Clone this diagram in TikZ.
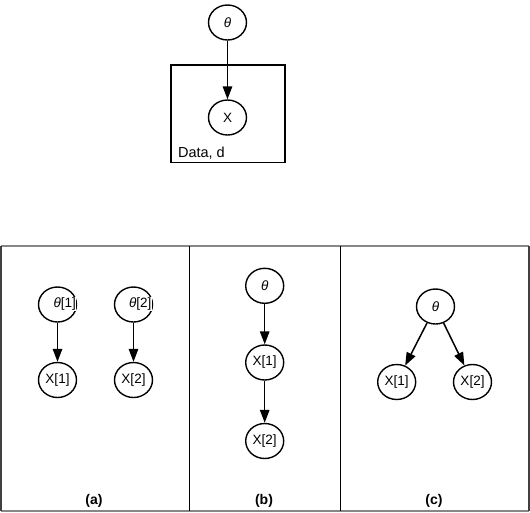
\documentclass[tikz,border=0pt]{standalone}
\usepackage{fontspec}
\setmainfont{Liberation Sans}
\usetikzlibrary{shapes.geometric,arrows.meta}
\begin{document}
\begin{tikzpicture}[x=1pt,y=-1pt,
  var/.style={ellipse,draw,line width=1.4pt,minimum width=38pt,minimum height=35pt,inner sep=0pt,font=\fontsize{13.5}{15}\selectfont},
  edge/.style={line width=1.5pt,-{Triangle[length=13pt,width=9.5pt]}},
  ttext/.style={fill=white,inner sep=0.6pt,font=\fontsize{13.5}{15}\selectfont},
  panellabel/.style={font=\bfseries\fontsize{14}{16}\selectfont}]
\useasboundingbox (0,0) rectangle (530,512);
% plate model at the top
\draw[line width=1.5pt] (171,65) rectangle (285,162.5);
\node[anchor=base west,font=\fontsize{14.5}{16}\selectfont] (dlab) at (174.5,157.5) {Data, d};
\node[var] (th) at (227.5,22.5) {\textit{θ}};
\node[var] (x) at (227.5,117.5) {X};
\draw[edge] (th) -- (x);
% panel frame
\draw[line width=2pt,gray!95] (1,246) -- (529,246);
\draw[line width=2pt,gray!95] (1,511) -- (529,511);
\draw[line width=1.8pt,black!75] (1,246) -- (1,511);
\draw[line width=1.8pt,black!75] (529,246) -- (529,511);
\draw[line width=1.5pt] (189.5,246) -- (189.5,511);
\draw[line width=1.5pt] (340.7,246) -- (340.7,511);
% panel (a): independent parameters
\node[var] (ta1) at (57.5,304.5) {};
\node[ttext] (ta1t) at (64.7,304) {\textit{θ}[1]};
\node[var] (xa1) at (57.5,380) {X[1]};
\node[var] (ta2) at (133.5,304.5) {};
\node[ttext] (ta2t) at (140.2,304) {\textit{θ}[2]};
\node[var] (xa2) at (133.5,380) {X[2]};
\draw[edge] (ta1) -- (xa1);
\draw[edge] (ta2) -- (xa2);
\node[panellabel] (la) at (94,501) {(a)};
% panel (b): chain
\node[var] (tb) at (264.7,285.8) {\textit{θ}};
\node[var] (xb1) at (264.7,362.5) {X[1]};
\node[var] (xb2) at (264.7,441) {X[2]};
\draw[edge] (tb) -- (xb1);
\draw[edge] (xb1) -- (xb2);
\node[panellabel] (lb) at (264,501) {(b)};
% panel (c): shared parameter
\node[var] (tc) at (435.5,306.5) {\textit{θ}};
\node[var] (xc1) at (396.7,382) {X[1]};
\node[var] (xc2) at (472.5,382) {X[2]};
\draw[edge] (tc) -- (xc1);
\draw[edge] (tc) -- (xc2);
\node[panellabel] (lc) at (434,501) {(c)};
\end{tikzpicture}
\end{document}
